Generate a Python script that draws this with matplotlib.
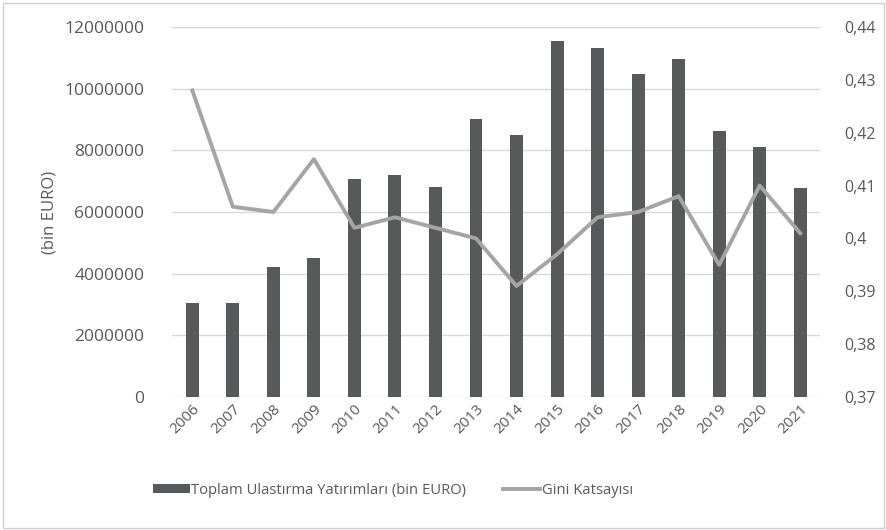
import numpy as np
import matplotlib
matplotlib.use('Agg')
import matplotlib.pyplot as plt
from matplotlib.ticker import FuncFormatter, MultipleLocator
from matplotlib.patches import Rectangle

plt.rcParams['font.family'] = ['Open Sans', 'DejaVu Sans']

years = [str(y) for y in range(2006, 2022)]
yatirim = [3050000, 3050000, 4220000, 4520000, 7060000, 7190000, 6800000, 9020000,
           8490000, 11560000, 11330000, 10480000, 10950000, 8640000, 8120000, 6770000]
gini = [0.428, 0.406, 0.405, 0.415, 0.402, 0.404, 0.402, 0.400,
        0.391, 0.397, 0.404, 0.405, 0.408, 0.395, 0.410, 0.401]

bar_col = '#58595b'
line_col = '#a5a5a5'
txt_col = '#595959'

fig = plt.figure(figsize=(8.87, 5.30), dpi=100)
ax = fig.add_axes([0.194, 0.251, 0.731, 0.698])
x = np.arange(len(years))
ax.bar(x, yatirim, width=0.32, color=bar_col, zorder=2,
       label='Toplam Ulastırma Yatırımları (bin EURO)')
ax.set_ylim(0, 12000000)
ax.set_xlim(-0.5, len(years) - 0.5)
ax.yaxis.set_major_locator(MultipleLocator(2000000))
ax.yaxis.set_major_formatter(FuncFormatter(lambda v, p: f'{int(v)}'))
ax.grid(axis='y', color='#d9d9d9', lw=1, zorder=0)
ax.set_xticks(x)
ax.set_xticklabels(years, rotation=45, ha='right', rotation_mode='anchor')
ax.tick_params(length=0, colors=txt_col, labelsize=11)
ax.tick_params(axis='y', labelsize=12.5, pad=20)
ax.set_ylabel('(bin EURO)', color=txt_col, fontsize=12, labelpad=5)
for s in ax.spines.values():
    s.set_visible(False)

ax2 = ax.twinx()
ax2.plot(x, gini, color=line_col, lw=2.8, zorder=3, label='Gini Katsayısı')
ax2.set_ylim(0.37, 0.44)
ax2.yaxis.set_major_locator(MultipleLocator(0.01))
ax2.yaxis.set_major_formatter(FuncFormatter(lambda v, p: f'{round(v, 2):g}'.replace('.', ',')))
ax2.tick_params(length=0, colors=txt_col, labelsize=11.5, pad=17)
for s in ax2.spines.values():
    s.set_visible(False)

h1, l1 = ax.get_legend_handles_labels()
h2, l2 = ax2.get_legend_handles_labels()
fig.legend(h1 + h2, l1 + l2, loc='center', bbox_to_anchor=(0.443, 0.075), ncol=2,
           frameon=False, fontsize=10.6, labelcolor=txt_col, handlelength=2.5,
           handletextpad=0.1, columnspacing=2.5, handleheight=0.5)

fig.patches.append(Rectangle((0.003, 0.003), 0.994, 0.992, transform=fig.transFigure,
                             fill=False, edgecolor='#d0d0d0', lw=1))

fig.savefig('out.png', dpi=100)
